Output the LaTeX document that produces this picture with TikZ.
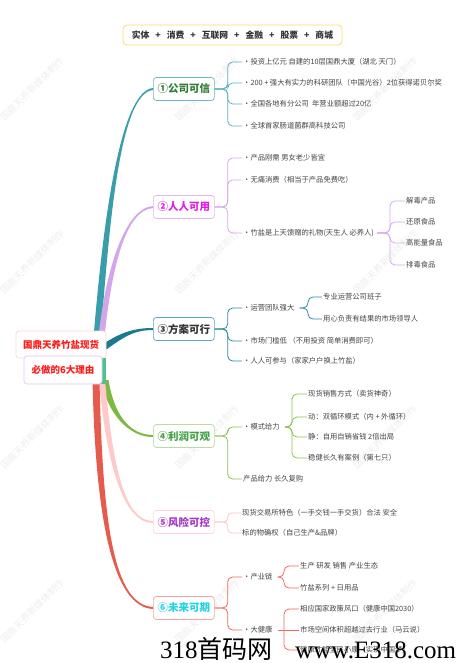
\documentclass[tikz,border=0pt]{standalone}
\usepackage{fontspec}
\setmainfont{Noto Sans CJK SC}
\newfontfamily\wmserif{Liberation Serif}
\usetikzlibrary{calc}
\definecolor{c1}{HTML}{3A9EAA}
\definecolor{c2}{HTML}{D3A5EA}
\definecolor{c3}{HTML}{1B7A90}
\definecolor{c4}{HTML}{7CB842}
\definecolor{c5}{HTML}{FFC9C9}
\definecolor{c6}{HTML}{E65C4C}
\definecolor{mint}{HTML}{52C08C}
\definecolor{l1}{HTML}{5AB4C0}
\definecolor{l2}{HTML}{D5A8EE}
\definecolor{l3}{HTML}{2A8CA8}
\definecolor{l4}{HTML}{8CC152}
\definecolor{l5}{HTML}{FFC4C4}
\definecolor{l6}{HTML}{EE6A5A}
\definecolor{bb1}{HTML}{6BBBC6}
\definecolor{bb2}{HTML}{E2B8F2}
\definecolor{bb3}{HTML}{5BA8C0}
\definecolor{bb4}{HTML}{B6DDA0}
\definecolor{bb5}{HTML}{FFD6D6}
\definecolor{bb6}{HTML}{F4A69C}
\definecolor{bt1}{HTML}{2F7D32}
\definecolor{bt2}{HTML}{E31CE3}
\definecolor{bt3}{HTML}{333333}
\definecolor{bt4}{HTML}{44A244}
\definecolor{bt5}{HTML}{A536C7}
\definecolor{bt6}{HTML}{22D3E6}
\definecolor{rb1}{HTML}{FFD6D6}
\definecolor{rb2}{HTML}{E2C8F2}
\definecolor{rootred}{HTML}{FF1A1A}
\definecolor{banner}{HTML}{FFD966}
\definecolor{leafgray}{HTML}{444444}
\newcommand{\taperline}[7]{%
  \fill[#1] ($(#2)+#6$) .. controls ($#3+#6$) and ($#4+#7$) .. ($(#5)+#7$)
    -- ($(#5)-#7$) .. controls ($#4-#7$) and ($#3-#6$) .. ($(#2)-#6$) -- cycle;}
\begin{document}
\begin{tikzpicture}[x=1pt,y=-1pt,
  leaf/.style={anchor=west, inner sep=1pt, text=leafgray, font=\fontsize{7.3}{8.5}\selectfont},
  bbox/.style={draw, fill=white, rounded corners=3pt, minimum width=61pt, minimum height=23pt,
    line width=0.7pt, inner sep=1pt, font=\bfseries\fontsize{10.5}{12}\selectfont},
  rootbox/.style={draw, fill=white, rounded corners=3pt, line width=0.7pt, inner sep=1pt,
    text=rootred, font=\bfseries\fontsize{9.5}{11}\selectfont},
  conn/.style={line width=0.8pt, rounded corners=5pt},
  wmark/.style={text=gray!13, rotate=45, font=\fontsize{9.5}{11}\selectfont, inner sep=0pt}]
\useasboundingbox (0,0) rectangle (462,663);
\fill[white] (0,0) rectangle (462,663);
% faint watermarks
\foreach \wx in {32,207,385}{
  \foreach \wy in {89,262,437,611}{
    \node[wmark] at (\wx,\wy) {国鼎天养新媒体制作};
  }
}
% banner
\node[draw=banner, line width=0.8pt, rounded corners=4pt, fill=white, minimum width=219pt,
  minimum height=20pt, inner sep=1pt, text=bt3, font=\bfseries\fontsize{8.8}{10}\selectfont]
  (top) at (232.5,35) {实体\hspace{6pt}+\hspace{6pt}消费\hspace{6pt}+\hspace{6pt}互联网\hspace{6pt}+\hspace{6pt}金融\hspace{6pt}+\hspace{6pt}股票\hspace{6pt}+\hspace{6pt}商城};
% branch boxes (positions)
\coordinate (s1) at (97,338);
\coordinate (s2) at (101,342);
\coordinate (s3) at (100,350);
\coordinate (s4) at (105,380);
\coordinate (s5) at (102,380);
\coordinate (s6) at (96,380);
\coordinate (e1) at (153,89);
\coordinate (e2) at (153,207);
\coordinate (e3) at (153,329);
\coordinate (e4) at (153,436);
\coordinate (e5) at (153,522);
\coordinate (e6) at (153,608);
% thick tapered main branches
\taperline{c1}{s1}{(105,240)}{(118,92)}{e1}{(-3.5,0)}{(0,-1)}
\taperline{c2}{s2}{(108,270)}{(125,209)}{e2}{(-3,0)}{(0,-1)}
\taperline{c3}{s3}{(120,336)}{(132,329)}{e3}{(-1.8,-2.6)}{(0,-1)}
\taperline{c4}{s4}{(110,412)}{(128,436)}{e4}{(-3.5,0)}{(0,1)}
\taperline{c5}{s5}{(110,470)}{(125,522)}{e5}{(-3,0)}{(0,1)}
\taperline{c6}{s6}{(99,520)}{(113,606)}{e6}{(-3.5,0)}{(0,1)}
\fill[mint] (100,358) rectangle (106,384);
% root
\node[rootbox, draw=rb1, minimum width=90pt, minimum height=27pt] (r1) at (61,344.5) {国鼎天养竹盐现货};
\node[rootbox, draw=rb2, minimum width=78pt, minimum height=28pt] (r2) at (63,370) {必做的6大理由};
% branch boxes
\node[bbox, draw=bb1, text=bt1, anchor=west] (b1) at (e1) {①公司可信};
\node[bbox, draw=bb2, text=bt2, anchor=west] (b2) at (e2) {②人人可用};
\node[bbox, draw=bb3, text=bt3, anchor=west] (b3) at (e3) {③方案可行};
\node[bbox, draw=bb4, text=bt4, anchor=west] (b4) at (e4) {④利润可观};
\node[bbox, draw=bb5, text=bt5, anchor=west] (b5) at (e5) {⑤风险可控};
\node[bbox, draw=bb6, text=bt6, anchor=west] (b6) at (e6) {⑥未来可期};
% branch 1
\node[leaf] (a11) at (242,62) {•投资上亿元 自建的10层国鼎大厦（湖北 天门）};
\node[leaf] (a12) at (242,83) {•200 + 强大有实力的科研团队（中国光谷）2位获得诺贝尔奖};
\node[leaf] (a13) at (242,104) {•全国各地有分公司\ \ 年营业额超过20亿};
\node[leaf] (a14) at (242,126) {•全球首家肠道菌群高科技公司};
\foreach \n in {a11,a12,a13,a14}{\draw[conn,l1] (b1.east) -- ++(13,0) |- (\n.west);}
% branch 2
\node[leaf] (a21) at (242,158) {•产品刚需 男女老少皆宜};
\node[leaf] (a22) at (242,180) {•无痛消费（相当于产品免费吃）};
\node[leaf] (a23) at (242,233) {•竹盐是上天馈赠的礼物(天生人 必养人)};
\foreach \n in {a21,a22,a23}{\draw[conn,l2] (b2.east) -- ++(13,0) |- (\n.west);}
\node[leaf] (a231) at (405,201) {解毒产品};
\node[leaf] (a232) at (405,222) {还原食品};
\node[leaf] (a233) at (405,243) {高能量食品};
\node[leaf] (a234) at (405,265) {排毒食品};
\coordinate (j23) at (390,233);
\foreach \n in {a231,a232,a233,a234}{\draw[conn,l2] ([xshift=2pt]a23.east) -- (j23) |- (\n.west);}
% branch 3
\node[leaf] (a31) at (242,308) {•运营团队强大};
\node[leaf] (a32) at (242,341) {•市场门槛低 （不用投资 简单消费即可）};
\node[leaf] (a33) at (242,361) {•人人可参与（家家户户换上竹盐）};
\foreach \n in {a31,a32,a33}{\draw[conn,l3] (b3.east) -- ++(13,0) |- (\n.west);}
\node[leaf] (a311) at (322,297) {专业运营公司班子};
\node[leaf] (a312) at (322,319) {用心负责有结果的市场领导人};
\coordinate (j31) at (308,308);
\foreach \n in {a311,a312}{\draw[conn,l3] ([xshift=4pt]a31.east) -- (j31) |- (\n.west);}
% branch 4
\node[leaf] (a41) at (242,427) {•模式给力};
\node[leaf] (a42) at (242,479) {产品给力 长久复购};
\foreach \n in {a41,a42}{\draw[conn,l4] (b4.east) -- ++(13,0) |- (\n.west);}
\node[leaf] (a411) at (307,394) {现货销售方式（卖货神奇）};
\node[leaf] (a412) at (307,417) {动：双循环模式（内 + 外循环）};
\node[leaf] (a413) at (307,437) {静：自用自销省钱 2倍出局};
\node[leaf] (a414) at (307,458) {稳健长久有案例（第七只）};
\coordinate (j41) at (292,427);
\foreach \n in {a411,a412,a413,a414}{\draw[conn,l4] ([xshift=4pt]a41.east) -- (j41) |- (\n.west);}
% branch 5
\node[leaf] (a51) at (241,513) {现货交易所特色（一手交钱一手交货）合法 安全};
\node[leaf] (a52) at (241,533) {标的物确权（自己生产\&品牌）};
\foreach \n in {a51,a52}{\draw[conn,l5,rounded corners=4pt] (b5.east) -- ++(13,0) |- (\n.west);}
% branch 6
\node[leaf] (a61) at (242,577) {•产业链};
\node[leaf] (a62) at (242,630) {•大健康};
\foreach \n in {a61,a62}{\draw[conn,l6] (b6.east) -- ++(13,0) |- (\n.west);}
\node[leaf] (a611) at (299,566) {生产 研发 销售 产业生态};
\node[leaf] (a612) at (299,588) {竹盐系列 + 日用品};
\coordinate (j61) at (284,577);
\foreach \n in {a611,a612}{\draw[conn,l6] ([xshift=4pt]a61.east) -- (j61) |- (\n.west);}
\node[leaf] (a621) at (299,609) {相应国家政策风口（健康中国2030）};
\node[leaf] (a622) at (299,630) {市场空间体积超越过去行业（马云说）};
\node[leaf] (a623) at (299,650) {健康才能全民小康（实现中国梦）};
\coordinate (j62) at (284,630);
\draw[conn,l6] ([xshift=4pt]a62.east) -- (a622.west);
\foreach \n in {a621,a623}{\draw[conn,l6] (j62) |- (\n.west);}
% site watermark
\node[anchor=base west, inner sep=0pt, text=black, font=\fontsize{25}{28}\selectfont] (wm1) at (160,658) {{\wmserif 318}首码网};
\node[anchor=base west, inner sep=0pt, text=black, font=\wmserif\fontsize{25}{28}\selectfont] (wm2) at (295,658) {www.E318.com};
\end{tikzpicture}
\end{document}
